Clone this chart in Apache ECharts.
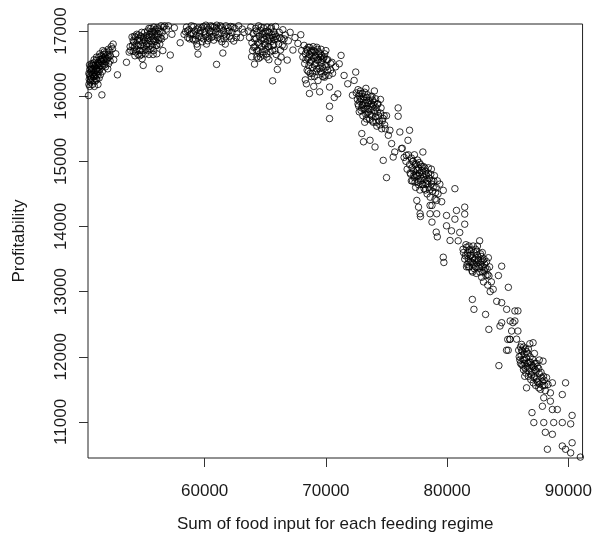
<!DOCTYPE html>
<html>
<head>
<meta charset="utf-8">
<script src="https://cdn.jsdelivr.net/npm/echarts@6/dist/echarts.min.js"></script>
<style>
html, body { margin: 0; padding: 0; background: #fff; }
#echarts { width: 595px; height: 546px; }
</style>
</head>
<body>
<div id="echarts"></div>
<script>
// [food input, profitability], one array per cluster along the curve
var groupA = [[50420,16010],[50450,16180],[50480,16260],[50500,16330],[50520,16410],[50550,16220],[50580,16300],[50600,16450],[50630,16370],[50660,16280],[50700,16400],[50720,16480],[50750,16340],[50780,16240],[50800,16420],[50830,16510],[50860,16360],[50900,16300],[50930,16450],[50960,16390],[51000,16480],[51030,16330],[51060,16550],[51100,16420],[51130,16470],[51160,16380],[51200,16520],[51240,16440],[51270,16600],[51300,16490],[51340,16410],[51380,16560],[51420,16470],[51460,16620],[51500,16530],[51540,16450],[51580,16580],[51620,16500],[51660,16640],[51700,16560],[51750,16480],[51800,16600],[51850,16530],[51900,16670],[51960,16580],[52020,16640],[52080,16500],[52150,16700],[52220,16620],[52300,16760],[52396,16728],[52450,16800],[52666,16651],[52805,16328],[51522,16020],[52500,16560],[51100,16250],[50900,16150],[52000,16420],[51200,16180],
  [50450,16350],[50520,16150],[50600,16250],[50680,16500],[50740,16180],[50820,16300],[50880,16560],[50950,16230],[51020,16400],[51080,16600],[51150,16320],[51220,16500],[51280,16380],[51350,16650],[51400,16330],[51480,16560],[51560,16380],[51640,16560],[51720,16680],[51820,16450],[51900,16560],[52050,16720],[52200,16540],[50500,16480],[50650,16420],[50850,16470],[51050,16270],[51300,16280],[51600,16700],[52100,16600]];
var groupB = [[53550,16520],[53770,16677],[53850,16760],[53900,16700],[54007,16908],[54050,16780],[54100,16690],[54150,16830],[54200,16750],[54250,16620],[54300,16908],[54350,16800],[54400,16720],[54450,16860],[54500,16780],[54550,16940],[54600,16700],[54650,16850],[54700,16780],[54750,16920],[54800,16640],[54840,16574],[54900,16820],[54930,16472],[54950,16900],[55000,16760],[55050,16980],[55100,16850],[55150,16720],[55200,16930],[55250,16810],[55300,17000],[55350,16880],[55400,16760],[55450,16950],[55500,16850],[55550,17040],[55600,16920],[55650,16800],[55700,16990],[55750,16880],[55800,17060],[55850,16950],[55900,16840],[55950,17020],[56000,16910],[56050,16780],[56100,17050],[56150,16960],[56200,16860],[56264,16420],[56300,17000],[56350,16900],[56400,17080],[56500,16980],[56600,17060],[56700,16920],[56850,17030],[57000,17080],[57163,16631],[57300,16950],[57500,17050],[57980,16820],[55400,16640],[55800,16700],
  [54100,16850],[54200,16920],[54300,16680],[54400,16950],[54500,16640],[54600,16890],[54700,16700],[54800,16980],[54900,16700],[55000,16870],[55100,16650],[55200,16780],[55300,16700],[55400,17040],[55500,16720],[55600,16990],[55700,16750],[55800,16860],[55900,17000],[56000,16780],[56100,16900],[56200,17030],[56300,16800],[56450,16880],[56550,16700],[56700,17080],[55250,16900],[54650,16620],[55750,16640],[56050,16650]];
var groupC = [[58300,16950],[58420,16990],[58500,17060],[58600,16900],[58700,17020],[58800,16950],[58900,17080],[59000,16880],[59120,16860],[59200,17000],[59300,16930],[59400,16760],[59450,16646],[59500,17050],[59600,16970],[59700,16900],[59800,16835],[59900,17070],[60000,16990],[60100,17090],[60190,16912],[60300,17030],[60400,16960],[60500,17080],[60600,17000],[60700,16920],[60800,17060],[60900,16980],[60981,16488],[61000,17090],[61100,16940],[61200,17040],[61300,16880],[61420,16835],[61500,16662],[61550,17010],[61650,16950],[61750,17080],[61850,16990],[61950,17050],[62050,16920],[62150,17070],[62250,16980],[62400,16846],[62500,17040],[62650,16960],[62800,17080],[62950,16900],[63100,17030],[63250,16980],[59050,16960],[59650,17010],[60550,16900],[61300,17080],[60250,16850],
  [58600,17000],[58750,16880],[58900,16960],[59100,17070],[59250,16870],[59400,17030],[59550,16920],[59750,17050],[59900,16880],[60050,16940],[60200,17060],[60350,16890],[60450,17000],[60650,17070],[60750,16860],[60950,17040],[61050,16900],[61250,16960],[61400,17060],[61600,16880],[61800,16920],[62000,17000],[62200,16880],[62350,17060],[60150,16800],[59350,16800],[61700,16800],[62600,16900]];
var groupD = [[63600,17000],[63700,16900],[63800,17060],[63870,16604],[63900,16820],[64000,16960],[64050,16750],[64113,16492],[64150,16760],[64200,17040],[64250,16880],[64300,16700],[64350,16980],[64400,16820],[64450,17080],[64500,16920],[64550,16650],[64600,17010],[64650,16860],[64700,16760],[64750,16950],[64830,16630],[64850,17050],[64900,16880],[64950,16800],[65000,16990],[65050,16720],[65100,16920],[65150,17060],[65200,16850],[65250,16760],[65300,16980],[65350,16900],[65400,16680],[65450,17040],[65500,16840],[65550,16940],[65609,16235],[65650,16780],[65700,16990],[65750,16870],[65800,16700],[65850,17070],[65900,16920],[65993,16410],[66050,16528],[66100,16800],[66150,16980],[66250,16708],[66350,16880],[66450,17020],[66550,16760],[66650,16940],[66810,16554],[66900,16850],[67050,16980],[67280,16708],[67450,16900],[67690,16810],[67930,16943],[64450,16580],[65300,16560],
  [63950,16700],[64100,16880],[64250,17000],[64400,16700],[64500,16800],[64650,17060],[64750,16680],[64900,16960],[65000,16780],[65100,16650],[65200,17000],[65300,16760],[65400,16880],[65500,17060],[65600,16700],[65700,16800],[65800,16950],[65900,16640],[66000,16880],[66200,16900],[66300,16600],[66400,16780],[66550,16880],[64600,16600],[65150,16600],[64300,16600],[64800,16900],[65650,16900]];
var groupE = [[68000,16700],[68100,16600],[68200,16780],[68250,16500],[68300,16650],[68390,16190],[68400,16720],[68450,16400],[68500,16580],[68550,16750],[68600,16470],[68643,16041],[68650,16640],[68700,16350],[68750,16700],[68800,16540],[68850,16620],[68900,16440],[68950,16760],[69000,16580],[69050,16300],[69100,16680],[69150,16500],[69200,16600],[69250,16420],[69300,16720],[69350,16240],[69400,16560],[69486,16067],[69500,16650],[69550,16380],[69600,16520],[69650,16620],[69700,16450],[69750,16300],[69800,16580],[69890,16292],[69950,16480],[70050,16560],[70150,16400],[70300,15846],[70300,16140],[70300,15656],[70400,16500],[70550,16350],[70690,15980],[70800,16450],[70980,16035],[71100,16497],[71250,16626],[71500,16318],[71800,16190],[72190,16015],[72330,16242],[72460,16370],[68300,16250],[69000,16150],[69900,16650],
  [68350,16560],[68450,16700],[68550,16380],[68650,16750],[68700,16520],[68800,16680],[68900,16350],[69000,16700],[69050,16480],[69150,16620],[69200,16380],[69300,16550],[69400,16680],[69450,16420],[69550,16600],[69650,16350],[69700,16550],[69800,16420],[69850,16600],[69950,16320],[70050,16450],[70150,16560],[70250,16320],[70400,16400],[70500,16520],[68600,16600],[69250,16750],[68800,16300],[69600,16720],[70000,16700]];
var groupF = [[72500,16050],[72600,15950],[72650,16100],[72700,15850],[72750,16000],[72800,15920],[72850,16080],[72900,15780],[72960,15426],[72950,15960],[73000,16040],[73050,15870],[73100,15300],[73100,15990],[73150,15800],[73200,16060],[73250,15900],[73300,15720],[73350,15980],[73400,15850],[73450,16020],[73500,15760],[73550,15930],[73600,15640],[73640,15323],[73650,15880],[73700,15990],[73750,15700],[73800,15840],[73850,15940],[73900,15600],[73950,15780],[74000,15900],[74050,15220],[74100,15680],[74150,15820],[74200,15540],[74250,15760],[74300,15880],[74400,15620],[74500,15740],[74600,15500],[74730,15015],[74700,15660],[74850,15560],[75000,14750],[75000,15700],[75150,15400],[75280,15477],[75420,15272],[75550,15066],[75680,15143],[75960,15820],[75960,15692],[76100,15450],[76230,15195],[76640,15092],[76770,15323],[76900,15477],[73300,16120],[74000,16080],[74500,15950],
  [72650,15880],[72750,15760],[72850,15960],[72950,15820],[73050,15700],[73150,15940],[73250,15800],[73350,15650],[73450,15900],[73550,15800],[73650,15720],[73750,15880],[73850,15620],[73950,15860],[74050,15740],[74150,15600],[74250,15880],[74350,15700],[74450,15560],[74550,15820],[74650,15620],[74800,15700],[74900,15500],[73000,15860],[73400,15740],[73800,16000],[74100,15960],[72800,16040],[73200,15600]];
var groupG = [[76600,15000],[76700,14880],[76800,15100],[76900,14950],[77000,14800],[77050,15050],[77100,14900],[77150,14700],[77200,15000],[77250,14850],[77300,14750],[77350,14950],[77400,14600],[77450,14880],[77500,14780],[77550,15020],[77600,14680],[77650,14900],[77700,14820],[77750,14560],[77800,14950],[77850,14740],[77900,14860],[77950,14650],[78000,15143],[78000,14800],[78050,14920],[78100,14580],[78150,14720],[78200,14850],[78250,14650],[78300,14780],[78350,14500],[78400,14700],[78450,14820],[78500,14600],[78550,14740],[78600,14450],[78700,14650],[78800,14540],[78900,14700],[79000,14420],[79100,14600],[79250,14500],[79400,14650],[79550,14380],[76300,15200],[76450,15060],[77300,15100],[77500,14400],[77640,14297],[78590,14323],[79140,14400],[79680,14554],[77770,14195],[78590,14195],[78750,14323],[79140,14195],[78750,14067],[79100,13913],[79680,13528],[77800,14153],[79190,13841],[79730,13447],
  [76950,14820],[77050,14700],[77150,15000],[77250,14780],[77350,14680],[77450,14960],[77550,14860],[77650,14640],[77700,14980],[77800,14700],[77900,14920],[78000,14640],[78050,14760],[78150,14900],[78250,14800],[78350,14660],[78450,14900],[78550,14560],[78650,14800],[78750,14700],[78850,14600],[78950,14780],[79050,14520],[79200,14700],[77600,14780],[78200,14560],[77400,14800],[78700,14880]];
var groupH = [[80240,13785],[80360,13933],[80640,14112],[80640,14580],[80770,14246],[79950,14169],[79950,14010],[80910,13780],[81040,13908],[81310,13650],[81450,14190],[81450,14035],[81450,14297],[81500,13550],[81600,13680],[81650,13420],[81700,13600],[81750,13500],[81800,13700],[81850,13380],[81900,13560],[81950,13460],[82000,13640],[82050,13320],[82080,12880],[82100,13520],[82150,13420],[82210,12728],[82200,13600],[82250,13350],[82300,13500],[82350,13650],[82400,13280],[82450,13440],[82500,13560],[82550,13380],[82600,13480],[82680,13780],[82700,13300],[82750,13420],[82800,13540],[82850,13220],[82900,13380],[82950,13480],[83000,13150],[83050,13320],[83170,12650],[83100,13420],[83200,13250],[83300,13350],[83350,13100],[83440,12420],[83450,13240],[83550,13000],[83650,13150],[83800,13035],[84090,12851],[84230,13246],[84360,12472],[84500,13390],[84500,12523],[84500,12830],[84910,12728],[85050,13066],[85200,12549],[85320,12395],[85590,12703],[85590,12549],[85180,12266],[85000,12266],[85430,12524],[85840,12704],[85840,12395],[84900,12100],[84270,11864],
  [81350,13600],[81450,13500],[81550,13720],[81650,13560],[81750,13380],[81850,13640],[81950,13560],[82050,13450],[82150,13700],[82250,13480],[82350,13380],[82450,13620],[82550,13500],[82650,13360],[82750,13580],[82850,13460],[82950,13300],[83050,13500],[83150,13360],[83250,13460],[83350,13260],[83500,13380],[81800,13450],[82100,13300],[82500,13700],[82900,13600],[83400,13520],[81600,13380]];
var groupI = [[85180,12270],[85730,12270],[85040,12100],[87090,12215],[85900,12100],[86000,11950],[86050,12150],[86100,12020],[86150,11880],[86200,12080],[86250,11960],[86300,11800],[86350,12040],[86400,11900],[86450,12120],[86500,11750],[86550,11523],[86550,11980],[86600,11850],[86650,12050],[86700,11700],[86750,11920],[86800,11820],[86850,12000],[86900,11650],[86950,11880],[87000,11760],[87050,11960],[87100,11600],[87150,11840],[87200,11700],[87250,11900],[87300,11560],[87350,11780],[87400,11660],[87450,11850],[87500,11600],[87600,11740],[87700,11500],[87800,11680],[87910,11933],[87900,11560],[88000,11640],[88100,11480],[88320,11574],[86140,12190],[86820,12200],
  [85950,12000],[86050,11900],[86150,12100],[86250,11860],[86350,11950],[86450,11820],[86550,12080],[86650,11900],[86750,11780],[86850,11920],[86950,11720],[87050,11860],[87150,11680],[87250,11800],[87350,11900],[87450,11620],[87550,11820],[87650,11580],[87750,11760],[87850,11620],[87950,11700],[88050,11560],[88200,11680],[86300,12150],[86700,12120],[87200,12050],[87600,11950],[86400,11700]];
var groupTail = [[87000,11143],[87150,10990],[87970,11370],[88520,11318],[87860,11240],[88680,11190],[89090,11190],[89500,11420],[87970,10990],[88790,10990],[89500,10990],[90310,11100],[90190,10970],[88100,10840],[88680,10810],[88270,10580],[89500,10630],[89770,10580],[90190,10525],[90310,10680],[90990,10460],[89770,11600],[88680,11600],[88520,11446],[87560,11523]];

var xTicks = [60000, 70000, 80000, 90000];
var yTicks = [11000, 12000, 13000, 14000, 15000, 16000, 17000];

var points = [].concat(groupA, groupB, groupC, groupD, groupE, groupF, groupG, groupH, groupI, groupTail);

var myChart = echarts.init(document.getElementById('echarts'));
var txt = '#1a1a1a';
var plain = function (v) { return String(v); };
option = {
    backgroundColor: '#fff',
    animation: false,
    grid: {
        left: 88, right: 8, top: 24, bottom: 88,
        show: true,
        borderColor: '#222',
        borderWidth: 1,
        backgroundColor: 'transparent'
    },
    xAxis: {
        type: 'value',
        min: 50376,
        max: 91170,
        name: 'Sum of food input for each feeding regime',
        nameLocation: 'middle',
        nameGap: 58,
        nameTextStyle: { color: txt, fontSize: 17, fontFamily: 'Liberation Sans' },
        axisLine: { show: false },
        splitLine: { show: false },
        axisTick: { show: true, length: 9, lineStyle: { color: '#333' }, customValues: xTicks },
        axisLabel: { color: txt, fontSize: 17, fontFamily: 'Liberation Sans', margin: 25, customValues: xTicks, formatter: plain }
    },
    yAxis: {
        type: 'value',
        min: 10446,
        max: 17108,
        name: 'Profitability',
        nameLocation: 'middle',
        nameGap: 60,
        nameTextStyle: { color: txt, fontSize: 17, fontFamily: 'Liberation Sans' },
        axisLine: { show: false },
        splitLine: { show: false },
        axisTick: { show: true, length: 9, lineStyle: { color: '#333' }, customValues: yTicks },
        axisLabel: { color: txt, fontSize: 17, fontFamily: 'Liberation Sans', margin: 18, rotate: 90, customValues: yTicks, formatter: plain }
    },
    series: [{
        type: 'scatter',
        symbol: 'circle',
        symbolSize: 6.5,
        itemStyle: { color: 'rgba(0,0,0,0)', borderColor: '#000', borderWidth: 1 },
        data: points
    }]
};
myChart.setOption(option);
</script>
</body>
</html>
